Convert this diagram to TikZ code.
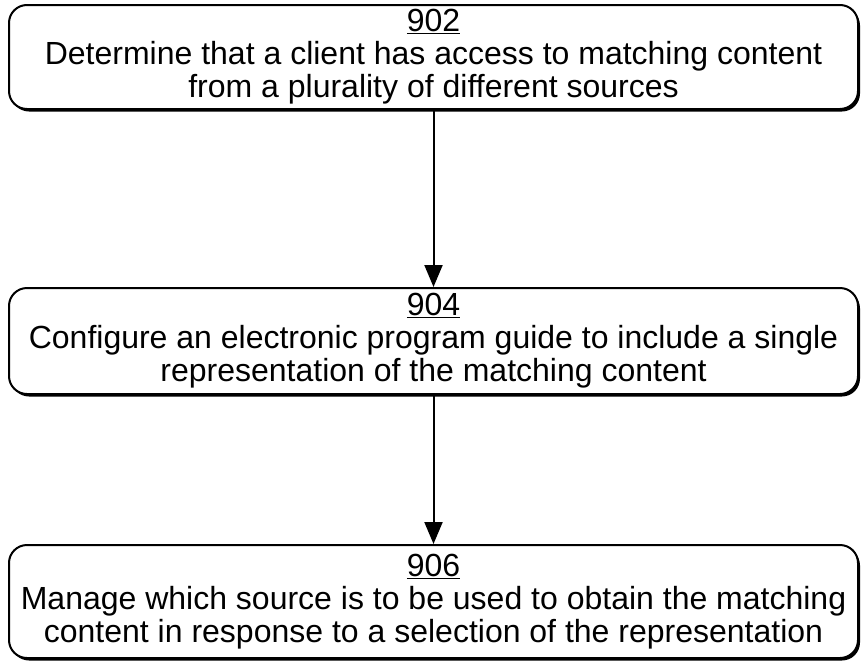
\documentclass[tikz,border=0pt]{standalone}
\usepackage{fontspec}
\setmainfont{Liberation Sans}
\usetikzlibrary{shadows,arrows.meta}
\begin{document}
\begin{tikzpicture}[x=1pt,y=-1pt,
  box/.style={draw=black, line width=2pt, rounded corners=18pt, fill=white,
    drop shadow={shadow xshift=2pt, shadow yshift=-2.5pt, fill=black, opacity=1},
    align=center, font=\fontsize{32}{33}\selectfont, inner sep=0pt,
    minimum width=849pt},
  arr/.style={line width=2pt, -{Triangle[length=22pt,width=18pt]}}]
\useasboundingbox (0,0) rectangle (861,664);
\node[box, minimum height=104pt] (b1) at (433.5,57)
  {\underline{902}\\Determine that a client has access to matching content\\from a plurality of different sources};
\node[box, minimum height=106pt] (b2) at (433.5,341)
  {\underline{904}\\Configure an electronic program guide to include a single\\representation of the matching content};
\node[box, minimum height=113pt] (b3) at (433.5,601.5)
  {\underline{906}\\Manage which source is to be used to obtain the matching\\content in response to a selection of the representation};
\draw[arr] (b1.south) -- (b2.north);
\draw[arr] (b2.south) -- (b3.north);
\end{tikzpicture}
\end{document}
